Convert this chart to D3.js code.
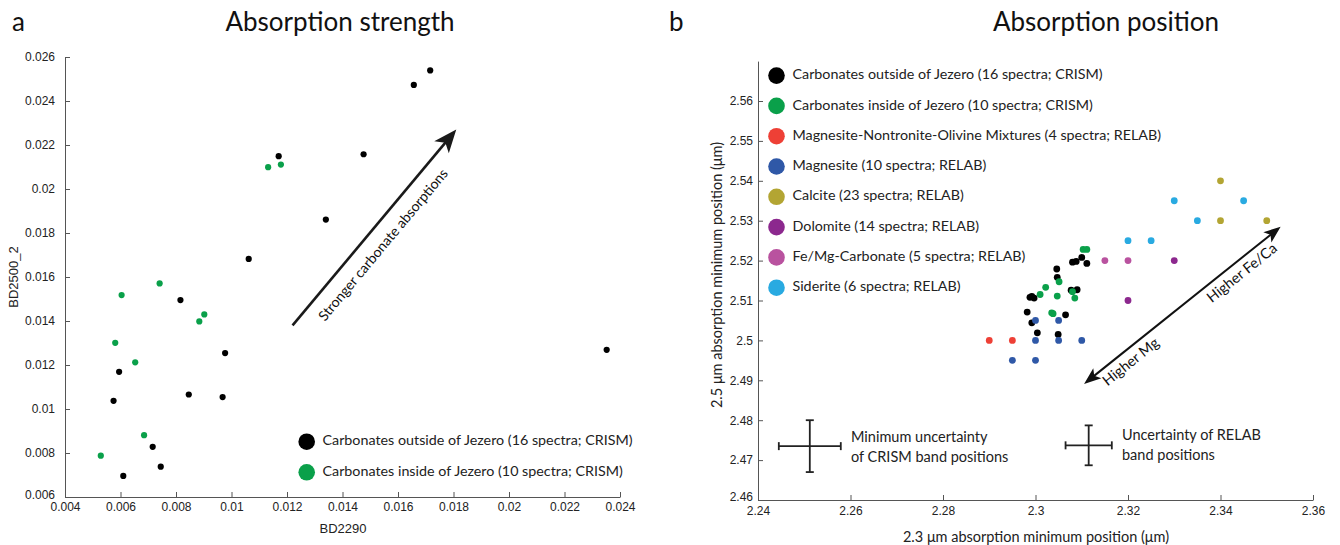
<!DOCTYPE html>
<html><head><meta charset="utf-8">
<script src="https://cdn.jsdelivr.net/npm/d3@7"></script>
<style>body{margin:0;background:#fff}svg{display:block}</style>
</head><body>
<svg id="c" width="1340" height="545"></svg>
<script>
// ---------- Panel a data (BD2290 vs BD2500_2) ----------
const aOutsideX = [0.01170,0.01340,0.01062,0.00816,0.00977,0.00595,0.00575,0.00846,0.00968,0.00716,0.00745,0.00610,0.01716,0.01657,0.01476,0.02352];
const aOutsideY = [0.02149,0.01861,0.01682,0.01495,0.01254,0.01169,0.01037,0.01066,0.01054,0.00828,0.00738,0.00696,0.02539,0.02473,0.02158,0.01269];
const aInsideX = [0.01132,0.01178,0.00741,0.00604,0.00902,0.00884,0.00581,0.00653,0.00685,0.00529];
const aInsideY = [0.02099,0.02111,0.01571,0.01518,0.01430,0.01398,0.01301,0.01212,0.00881,0.00788];
const aXTicks = [0.004,0.006,0.008,0.01,0.012,0.014,0.016,0.018,0.02,0.022,0.024];
const aYTicks = [0.006,0.008,0.01,0.012,0.014,0.016,0.018,0.02,0.022,0.024,0.026];
const aArrow = [[0.0122,0.0138],[0.0181,0.0227]];
const aLegend = ["Carbonates outside of Jezero (16 spectra; CRISM)","Carbonates inside of Jezero (10 spectra; CRISM)"];

// ---------- Panel b data (2.3 µm vs 2.5 µm band position) ----------
const bOutsideX = [2.3046,2.3047,2.2988,2.2992,2.2982,2.2992,2.3004,2.3049,2.3065,2.3077,2.3090,2.3080,2.3088,2.3100,2.3111,2.2997];
const bOutsideY = [2.5179,2.5158,2.5108,2.5110,2.5071,2.5044,2.5019,2.5015,2.5064,2.5126,2.5127,2.5196,2.5198,2.5208,2.5193,2.5106];
const bInsideX = [2.3103,2.3111,2.3051,2.3022,2.3010,2.3047,2.3080,2.3085,2.3035,2.3038];
const bInsideY = [2.5228,2.5228,2.5147,2.5133,2.5115,2.5111,2.5122,2.5106,2.5069,2.5067];
const mixX = [2.29,2.295];             const mixY = [2.50,2.50];
const magX = [2.30,2.305,2.31,2.295,2.30,2.30,2.305];  const magY = [2.50,2.50,2.50,2.495,2.495,2.505,2.505];
const calX = [2.34,2.34,2.35];        const calY = [2.54,2.53,2.53];
const dolX = [2.33,2.32];             const dolY = [2.52,2.51];
const femgX = [2.315,2.32];           const femgY = [2.52,2.52];
const sidX = [2.32,2.325,2.335,2.33,2.345]; const sidY = [2.525,2.525,2.53,2.535,2.535];
const bXTicks = [2.24,2.26,2.28,2.30,2.32,2.34,2.36];
const bYTicks = [2.46,2.47,2.48,2.49,2.50,2.51,2.52,2.53,2.54,2.55,2.56];
const bArrow = [[2.3105,2.4891],[2.353,2.5285]];
const bLegend = ["Carbonates outside of Jezero (16 spectra; CRISM)","Carbonates inside of Jezero (10 spectra; CRISM)",
  "Magnesite-Nontronite-Olivine Mixtures (4 spectra; RELAB)","Magnesite (10 spectra; RELAB)","Calcite (23 spectra; RELAB)",
  "Dolomite (14 spectra; RELAB)","Fe/Mg-Carbonate (5 spectra; RELAB)","Siderite (6 spectra; RELAB)"];
const uncCrism = {x:2.2512, y:2.4735, ex:0.0067, ey:0.0065};
const uncRelab = {x:2.3115, y:2.4737, ex:0.0050, ey:0.0050};

// ---------- styles ----------
const C = {out:"#000000", ins:"#0aa04a", mix:"#ee4036", mag:"#2f58a7", cal:"#b3a533", dol:"#8c288e", femg:"#b9529f", sid:"#29aae1"};
const SANS = "Lato, 'Open Sans', sans-serif";
const HELV = "'Liberation Sans', Arial, sans-serif";
const svg = d3.select("#c");
const zip = (xs, ys) => xs.map((x,i)=>[x, ys[i]]);
const fmt = d => String(+d.toFixed(3));

function styleAxis(g){
  g.selectAll("path.domain").attr("stroke","#555").attr("stroke-width",1);
  g.selectAll(".tick line").attr("stroke","#555");
  g.selectAll(".tick text").attr("fill","#222").style("font-family",HELV).style("font-size","12px");
}
function arrowHead(g, tip, from, len, hw, notch, color){
  const dx = tip[0]-from[0], dy = tip[1]-from[1], L = Math.hypot(dx,dy);
  const ux = dx/L, uy = dy/L, nx = -uy, ny = ux;
  const bx = tip[0]-ux*len, by = tip[1]-uy*len;
  const pts = [tip, [bx+nx*hw, by+ny*hw], [tip[0]-ux*(len-notch), tip[1]-uy*(len-notch)], [bx-nx*hw, by-ny*hw]];
  g.append("polygon").attr("points", pts.map(p=>p.join(",")).join(" ")).attr("fill", color);
  return [tip[0]-ux*(len-notch-1), tip[1]-uy*(len-notch-1)];
}
function rotText(g, p0, p1, frac, off, txt, size){
  const ang = Math.atan2(p1[1]-p0[1], p1[0]-p0[0]);
  const cx = p0[0]+(p1[0]-p0[0])*frac, cy = p0[1]+(p1[1]-p0[1])*frac;
  g.append("text").attr("transform", `translate(${cx},${cy}) rotate(${ang*180/Math.PI}) translate(0,${off})`)
    .attr("text-anchor","middle").attr("dominant-baseline","middle")
    .style("font-family",SANS).style("font-size",size+"px").attr("fill","#111").text(txt);
}

// ================= Panel a =================
const xA = d3.scaleLinear().domain([0.004,0.024]).range([65,620]);
const yA = d3.scaleLinear().domain([0.006,0.026]).range([497,57]);
const gA = svg.append("g");
gA.append("g").attr("transform","translate(0,497)")
  .call(d3.axisBottom(xA).tickValues(aXTicks).tickFormat(fmt).tickSizeInner(-5).tickSizeOuter(0).tickPadding(5))
  .call(styleAxis);
const gAy = gA.append("g").attr("transform","translate(65,0)")
  .call(d3.axisLeft(yA).tickValues(aYTicks).tickFormat(fmt).tickSizeInner(-5).tickSizeOuter(0).tickPadding(10))
  .call(styleAxis);
gAy.selectAll(".tick text").filter(d=>d===aYTicks[0]).attr("dy","0.1em");
gA.append("text").attr("x",343).attr("y",533).attr("text-anchor","middle")
  .style("font-family",HELV).style("font-size","13px").attr("fill","#222").text("BD2290");
gA.append("text").attr("transform","translate(18,277) rotate(-90)").attr("text-anchor","middle")
  .style("font-family",HELV).style("font-size","13px").attr("fill","#222").text("BD2500_2");
gA.selectAll("circle.out").data(zip(aOutsideX,aOutsideY)).join("circle")
  .attr("cx",d=>xA(d[0])).attr("cy",d=>yA(d[1])).attr("r",3.1).attr("fill",C.out);
gA.selectAll("circle.ins").data(zip(aInsideX,aInsideY)).join("circle")
  .attr("cx",d=>xA(d[0])).attr("cy",d=>yA(d[1])).attr("r",3.1).attr("fill",C.ins);
{
  const p0 = [xA(aArrow[0][0]), yA(aArrow[0][1])], p1 = [xA(aArrow[1][0]), yA(aArrow[1][1])];
  const e = arrowHead(gA, p1, p0, 23, 9.5, 6, "#1a1a1a");
  gA.append("line").attr("x1",p0[0]).attr("y1",p0[1]).attr("x2",e[0]).attr("y2",e[1]).attr("stroke","#1a1a1a").attr("stroke-width",2.6);
  rotText(gA, p0, p1, 0.47, 19, "Stronger carbonate absorptions", 14);
}
aLegend.forEach((t,i)=>{
  const y = 441.7 + i*30.6;
  gA.append("circle").attr("cx",306.7).attr("cy",y).attr("r",8.3).attr("fill",[C.out,C.ins][i]);
  gA.append("text").attr("x",322.5).attr("y",y).attr("dominant-baseline","middle")
    .style("font-family",SANS).style("font-size","14.3px").attr("fill","#222").text(t);
});

// ================= Panel b =================
const xB = d3.scaleLinear().domain([2.24,2.36]).range([758,1313]);
const yB = d3.scaleLinear().domain([2.46,2.57]).range([500,61.1]);
const gB = svg.append("g");
gB.append("g").attr("transform","translate(0,500)")
  .call(d3.axisBottom(xB).tickValues(bXTicks).tickFormat(fmt).tickSizeInner(-5).tickSizeOuter(0).tickPadding(6))
  .call(styleAxis);
const gBy = gB.append("g").attr("transform","translate(758,0)")
  .call(d3.axisLeft(yB).tickValues(bYTicks).tickFormat(fmt).tickSizeInner(-5).tickSizeOuter(0).tickPadding(5))
  .call(styleAxis);
gBy.selectAll(".tick text").filter(d=>d===bYTicks[0]).attr("dy","0.05em");
gB.append("text").attr("x",1036).attr("y",542).attr("text-anchor","middle")
  .style("font-family",SANS).style("font-size","14.5px").attr("fill","#222").text("2.3 μm absorption minimum position (μm)");
gB.append("text").attr("transform","translate(722,275) rotate(-90)").attr("text-anchor","middle")
  .style("font-family",SANS).style("font-size","14.5px").attr("fill","#222").text("2.5 μm absorption minimum position (μm)");

const bSeries = [
  [bOutsideX,bOutsideY,C.out],[bInsideX,bInsideY,C.ins],[mixX,mixY,C.mix],[magX,magY,C.mag],
  [calX,calY,C.cal],[dolX,dolY,C.dol],[femgX,femgY,C.femg],[sidX,sidY,C.sid]
];
bSeries.forEach(([xs,ys,col])=>{
  gB.append("g").selectAll("circle").data(zip(xs,ys)).join("circle")
    .attr("cx",d=>xB(d[0])).attr("cy",d=>yB(d[1])).attr("r",3.4).attr("fill",col);
});
bLegend.forEach((t,i)=>{
  const y = 75.6 + i*30.3;
  gB.append("circle").attr("cx",776.5).attr("cy",y).attr("r",8.3).attr("fill",bSeries[i][2]);
  gB.append("text").attr("x",792.5).attr("y",y).attr("dominant-baseline","middle")
    .style("font-family",SANS).style("font-size","14.3px").attr("fill","#222").text(t);
});
{
  const p0 = [xB(bArrow[0][0]), yB(bArrow[0][1])], p1 = [xB(bArrow[1][0]), yB(bArrow[1][1])];
  const e1 = arrowHead(gB, p1, p0, 17, 6.5, 4, "#111");
  const e0 = arrowHead(gB, p0, p1, 17, 6.5, 4, "#111");
  gB.append("line").attr("x1",e0[0]).attr("y1",e0[1]).attr("x2",e1[0]).attr("y2",e1[1]).attr("stroke","#111").attr("stroke-width",2);
  rotText(gB, p0, p1, 0.2, 13, "Higher Mg", 14.5);
  rotText(gB, p0, p1, 0.765, 13, "Higher Fe/Ca", 14.5);
}
// uncertainty crosses
[[uncCrism,["Minimum uncertainty","of CRISM band positions"],851],[uncRelab,["Uncertainty of RELAB","band positions"],1122]]
 .forEach(([u,lines,tx],k)=>{
  const g = gB.append("g").attr("stroke","#222").attr("stroke-width",1.8);
  const cx = xB(u.x), cy = yB(u.y), x0 = xB(u.x-u.ex), x1 = xB(u.x+u.ex), y0 = yB(u.y+u.ey), y1 = yB(u.y-u.ey);
  g.append("line").attr("x1",x0).attr("x2",x1).attr("y1",cy).attr("y2",cy);
  g.append("line").attr("x1",cx).attr("x2",cx).attr("y1",y0).attr("y2",y1);
  g.append("line").attr("x1",x0).attr("x2",x0).attr("y1",cy-4).attr("y2",cy+4);
  g.append("line").attr("x1",x1).attr("x2",x1).attr("y1",cy-4).attr("y2",cy+4);
  g.append("line").attr("x1",cx-4).attr("x2",cx+4).attr("y1",y0).attr("y2",y0);
  g.append("line").attr("x1",cx-4).attr("x2",cx+4).attr("y1",y1).attr("y2",y1);
  lines.forEach((t,j)=>{
    gB.append("text").attr("x",tx).attr("y",(k?436:438)+j*20).attr("dominant-baseline","middle")
      .style("font-family",SANS).style("font-size","14.5px").attr("fill","#222").text(t);
  });
});

// ================= Titles =================
const titles = [["a",12,"start"],["Absorption strength",340,"middle"],["b",669,"start"],["Absorption position",1106,"middle"]];
titles.forEach(([t,x,a])=>{
  svg.append("text").attr("x",x).attr("y",31).attr("text-anchor",a)
    .style("font-family",SANS).style("font-size","26px").attr("fill","#111").text(t);
});
</script>
</body></html>
